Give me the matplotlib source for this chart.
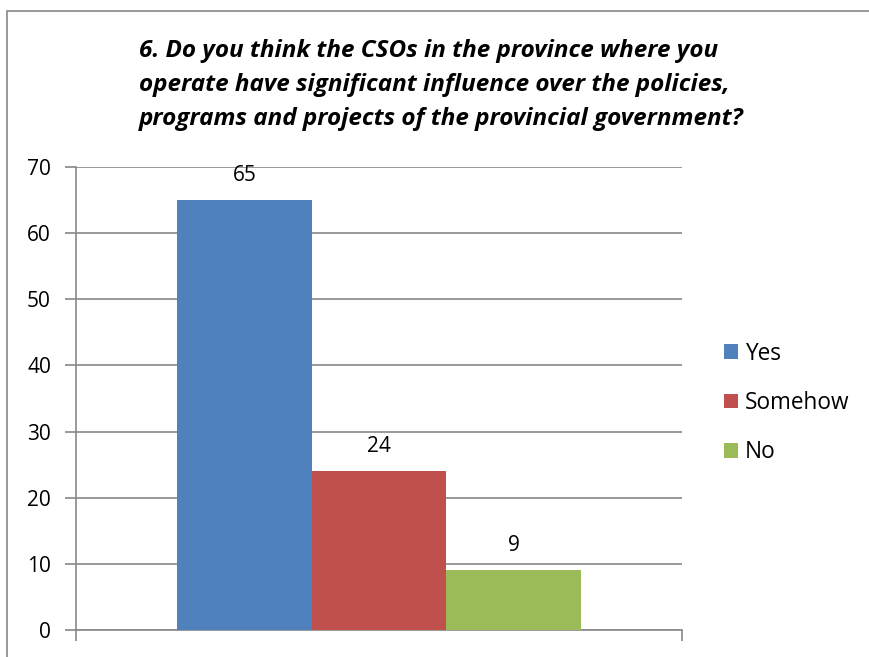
import matplotlib.pyplot as plt
from matplotlib.patches import Rectangle

categories = ["Yes", "Somehow", "No"]
values = [65, 24, 9]
colors = ["#4f81bd", "#c0504d", "#9bbb59"]
yticks = [0, 10, 20, 30, 40, 50, 60, 70]

title = ("6. Do you think the CSOs in the province where you\n"
         "operate have significant influence over the policies,\n"
         "programs and projects of the provincial government?")

plt.rcParams["font.family"] = ["Open Sans", "DejaVu Sans"]

W, H = 870, 657
fig = plt.figure(figsize=(W / 100, H / 100), dpi=100)

# chart frame
fig.patches.append(Rectangle((7 / W, -0.02), 1.1, 1 - 11 / H + 0.02,
                             transform=fig.transFigure, fill=False,
                             edgecolor="#888888", linewidth=1.2))

ax = fig.add_axes([76 / W, 1 - 630 / H, (682 - 76) / W, (630 - 167) / H])

group = 2 / 3
bw = group / len(values)
start = -group / 2 + bw / 2
for i, (cat, val, col) in enumerate(zip(categories, values, colors)):
    x = start + i * bw
    ax.bar(x, val, width=bw, color=col, label=cat, zorder=3)
    ax.text(x, val + 2.2, str(val), ha="center", va="bottom", fontsize=15)

ax.set_xlim(-0.5, 0.5)
ax.set_ylim(0, 70)
ax.set_yticks(yticks)
ax.set_yticklabels([str(t) for t in yticks], fontsize=15)
ax.tick_params(axis="y", length=8, width=1.2, color="#888888", pad=10)
ax.set_xticks([-0.5, 0.5])
ax.set_xticklabels(["", ""])
ax.tick_params(axis="x", length=8, width=1.2, color="#888888")
ax.grid(axis="y", color="#888888", linewidth=1.2, zorder=0)

for side in ["top", "right"]:
    ax.spines[side].set_visible(False)
for side in ["left", "bottom"]:
    ax.spines[side].set_color("#888888")
    ax.spines[side].set_linewidth(1.2)

fig.text(441 / W, 1 - 85 / H, title, ha="center", va="center",
         multialignment="left", fontsize=17.5, fontweight="bold",
         fontstyle="italic", linespacing=1.57)

fig.legend(loc="center left", bbox_to_anchor=(704 / W, 1 - 403 / H),
           frameon=False, fontsize=16.3, handlelength=0.6, handleheight=0.6,
           handletextpad=0.3, labelspacing=1.12)

fig.savefig("out.png", dpi=100)
